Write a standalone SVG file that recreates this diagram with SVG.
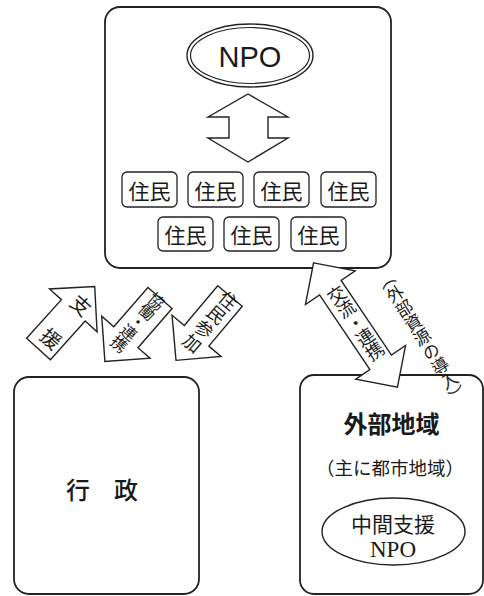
<svg xmlns="http://www.w3.org/2000/svg" width="484" height="596" viewBox="0 0 484 596">
<style>
.box{fill:#fff;stroke:#222;stroke-width:1.8}
.arr{fill:#fff;stroke:#222;stroke-width:1.4;stroke-linejoin:miter}
.res rect{fill:#fff;stroke:#222;stroke-width:1.3}
.cjk{font-family:"Noto Sans CJK JP","Noto Sans CJK SC",sans-serif;fill:#1a1a1a}
.res text{font-size:21px;text-anchor:middle;dominant-baseline:central}
.lbl{text-anchor:middle;dominant-baseline:central}
</style>
<rect width="484" height="596" fill="#fff"/>

<g id="community">
  <rect class="box" x="105" y="7" width="286" height="261" rx="15"/>
</g>

<g id="npo">
  <ellipse cx="250" cy="55.5" rx="63" ry="31.5" fill="#fff" stroke="#222" stroke-width="1.4"/>
  <ellipse cx="250" cy="55.5" rx="59.5" ry="28" fill="none" stroke="#222" stroke-width="1.2"/>
  <text x="250" y="67" font-family="Liberation Sans, Arial, sans-serif" font-size="29" text-anchor="middle" fill="#1a1a1a">NPO</text>
</g>

<g id="residents-link">
  <path class="arr" d="M248,94 L288,117 H268 V138 H288 L248,162 L208,138 H229 V117 H208 Z"/>
</g>

<g id="resident1" class="res cjk"><rect x="122" y="172" width="55" height="35" rx="5"/><text x="149.5" y="189.5">住民</text></g>
<g id="resident2" class="res cjk"><rect x="188" y="172" width="55" height="35" rx="5"/><text x="215.5" y="189.5">住民</text></g>
<g id="resident3" class="res cjk"><rect x="254" y="172" width="55" height="35" rx="5"/><text x="281.5" y="189.5">住民</text></g>
<g id="resident4" class="res cjk"><rect x="321" y="172" width="55" height="35" rx="5"/><text x="348.5" y="189.5">住民</text></g>
<g id="resident5" class="res cjk"><rect x="158" y="217" width="55" height="34" rx="5"/><text x="185.5" y="234">住民</text></g>
<g id="resident6" class="res cjk"><rect x="224" y="217" width="55" height="34" rx="5"/><text x="251.5" y="234">住民</text></g>
<g id="resident7" class="res cjk"><rect x="291" y="217" width="55" height="34" rx="5"/><text x="318.5" y="234">住民</text></g>

<g id="government">
  <rect class="box" x="14" y="377" width="185" height="217" rx="15"/>
  <text class="cjk lbl" x="102" y="488" font-size="24" font-weight="500">行　政</text>
</g>

<g id="external">
  <rect class="box" x="300" y="375" width="183" height="219" rx="14"/>
  <text class="cjk lbl" x="391.5" y="422" font-size="24" font-weight="700">外部地域</text>
  <text class="cjk lbl" x="390" y="467" font-size="18.5">（主に都市地域）</text>
  <ellipse cx="393.5" cy="531.5" rx="71.5" ry="33.5" fill="#fff" stroke="#222" stroke-width="1.4"/>
  <text class="cjk lbl" x="393" y="523" font-size="21">中間支援</text>
  <text x="393" y="557" font-family="Liberation Serif, serif" font-size="23" text-anchor="middle" fill="#1a1a1a">NPO</text>
</g>

<g id="connectors">
  <g id="support">
    <path class="arr" transform="translate(38.5,349) rotate(-48)" d="M0,-16 H52 V-32 L84,0 L52,32 V16 H0 Z"/>
    <text class="cjk lbl" transform="translate(67,321) rotate(42)" x="0 0" y="-22 23" font-size="20">支援</text>
  </g>
  <g id="collaboration">
    <path class="arr" transform="translate(160,298) rotate(131)" d="M0,-16 H52 V-32 L84,0 L52,32 V16 H0 Z"/>
    <text class="cjk lbl" transform="translate(138,322) rotate(41)" x="0 0 0 0 0" y="-29 -14.5 -1 13 28" font-size="16">協働・連携</text>
  </g>
  <g id="participation">
    <path class="arr" transform="translate(230,296) rotate(130)" d="M0,-16 H52 V-32 L84,0 L52,32 V16 H0 Z"/>
    <text class="cjk lbl" transform="translate(211,321) rotate(40)" x="0 0 0 0" y="-28 -9.5 9.5 28" font-size="18">住民参加</text>
  </g>
  <g id="exchange">
    <path class="arr" transform="translate(355.5,325) rotate(56)" d="M-75,0 L-45,-30 V-13 H45 V-30 L75,0 L45,30 V13 H-45 V30 Z"/>
    <text class="cjk lbl" transform="translate(355,322) rotate(-34)" x="0 0 0 0 0" y="-34 -17 0 17 34" font-size="18">交流・連携</text>
  </g>
  <text class="cjk" transform="translate(422,337) rotate(-32)" x="0" y="0" text-anchor="middle" font-size="17" style="writing-mode:vertical-rl;text-orientation:upright">（外部資源の導入）</text>
</g>
</svg>
